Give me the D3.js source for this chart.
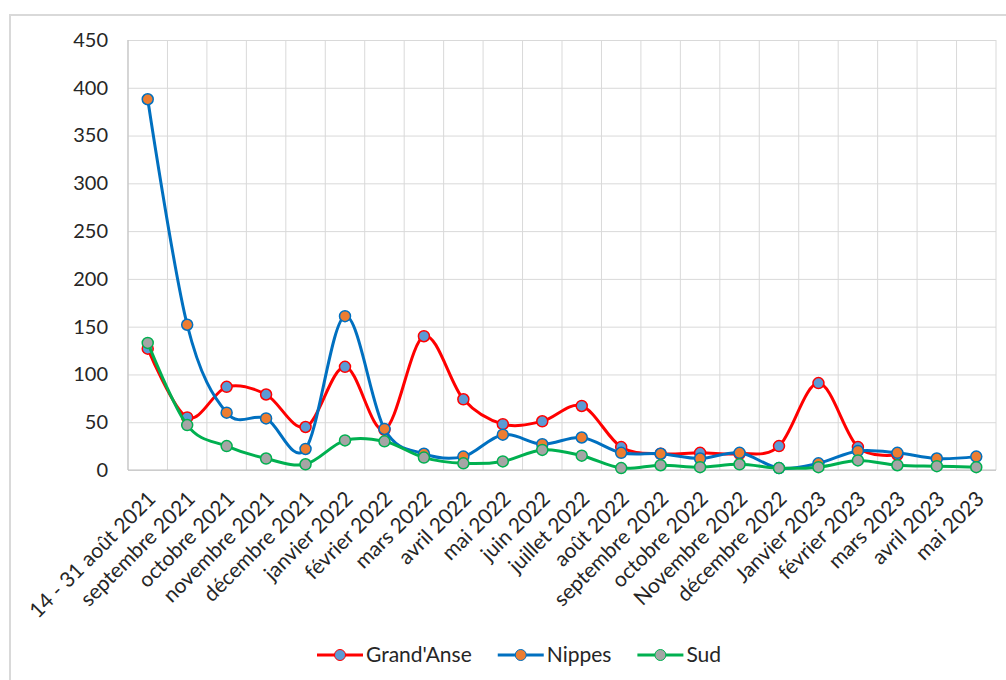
<!DOCTYPE html>
<html>
<head>
<meta charset="utf-8">
<script src="https://cdn.jsdelivr.net/npm/d3@7"></script>
<style>
  body { margin: 0; background: #fff; }
  text { font-family: Lato, "Noto Sans", sans-serif; fill: #262626; }
</style>
</head>
<body>
<div id="chart"></div>
<script>
// data
var categories = ["14 - 31 août 2021", "septembre 2021", "octobre 2021", "novembre 2021",
    "décembre 2021", "janvier 2022", "février 2022", "mars 2022", "avril 2022", "mai 2022",
    "juin 2022", "juillet 2022", "août 2022", "septembre 2022", "octobre 2022",
    "Novembre 2022", "décembre 2022", "Janvier 2023", "février 2023", "mars 2023",
    "avril 2023", "mai 2023"];
var grandAnse = [127, 55, 87, 79, 45, 108, 42, 140, 74, 48, 51, 67, 24, 17, 18, 17, 25, 91, 24, 16, null, null];
var nippes = [388, 152, 60, 54, 22, 161, 43, 17, 14, 37, 27, 34, 18, 17, 12, 18, 2, 7, 20, 18, 12, 14];
var sud = [133, 47, 25, 12, 6, 31, 30, 13, 7, 9, 21, 15, 2, 5, 3, 6, 2, 3, 10, 5, 4, 3];
var yTicks = [0, 50, 100, 150, 200, 250, 300, 350, 400, 450];

var series = [
    { name: "Grand'Anse", values: grandAnse, line: "#ff0000", fill: "#5b9bd5" },
    { name: "Nippes", values: nippes, line: "#0070c0", fill: "#ed7d31" },
    { name: "Sud", values: sud, line: "#00b050", fill: "#a5a5a5" }
];

var W = 1006, H = 680;
var plot = { left: 128, right: 996, top: 40, bottom: 470 };

var svg = d3.select("#chart").append("svg")
    .attr("width", W)
    .attr("height", H);

// chart frame
svg.append("rect")
    .attr("x", 10).attr("y", 15)
    .attr("width", W + 20).attr("height", H + 20)
    .attr("fill", "#fff")
    .attr("stroke", "#d9d9d9")
    .attr("stroke-width", 2);

var x = d3.scaleBand().domain(categories).range([plot.left, plot.right]);
var y = d3.scaleLinear().domain([0, 450]).range([plot.bottom, plot.top]);
var cx = function(c) { return x(c) + x.bandwidth() / 2; };

// horizontal gridlines
svg.append("g")
    .attr("transform", "translate(" + plot.left + ",0)")
    .call(d3.axisLeft(y).tickValues(yTicks).tickSize(-(plot.right - plot.left)).tickFormat(""))
    .call(function(g) { g.select(".domain").remove(); })
    .selectAll("line").attr("stroke", "#d9d9d9");

// vertical gridlines at category borders
var borders = categories.map(function(c) { return x(c); }).concat([plot.right]);
svg.append("g").selectAll("line")
    .data(borders)
    .enter().append("line")
    .attr("x1", function(d) { return d; })
    .attr("x2", function(d) { return d; })
    .attr("y1", plot.top)
    .attr("y2", plot.bottom)
    .attr("stroke", "#d9d9d9");

// axis lines
svg.append("line")
    .attr("x1", plot.left).attr("x2", plot.left)
    .attr("y1", plot.top).attr("y2", plot.bottom)
    .attr("stroke", "#bfbfbf");
svg.append("line")
    .attr("x1", plot.left).attr("x2", plot.right)
    .attr("y1", plot.bottom).attr("y2", plot.bottom)
    .attr("stroke", "#bfbfbf");

// y tick labels
svg.append("g")
    .attr("transform", "translate(" + plot.left + ",0)")
    .call(d3.axisLeft(y).tickValues(yTicks).tickSize(0).tickPadding(20))
    .call(function(g) { g.select(".domain").remove(); })
    .selectAll("text")
    .style("font-family", "Lato, 'Noto Sans', sans-serif")
    .style("font-size", "20px")
    .attr("fill", "#262626");

// x tick labels, rotated
svg.append("g").selectAll("text")
    .data(categories)
    .enter().append("text")
    .attr("transform", function(d) { return "translate(" + (cx(d) + 4) + "," + 495 + ") rotate(-45)"; })
    .attr("text-anchor", "end")
    .attr("dy", "0.35em")
    .style("font-size", "21px")
    .text(function(d) { return d; });

// lines and markers, one series at a time
var line = d3.line()
    .defined(function(d) { return d != null; })
    .x(function(d, i) { return cx(categories[i]); })
    .y(function(d) { return y(d); })
    .curve(d3.curveCardinal.tension(0));

series.forEach(function(s) {
    var g = svg.append("g");
    g.append("path")
        .attr("d", line(s.values))
        .attr("fill", "none")
        .attr("stroke", s.line)
        .attr("stroke-width", 3);
    g.selectAll("circle")
        .data(s.values.map(function(v, i) { return { v: v, c: categories[i] }; })
            .filter(function(d) { return d.v != null; }))
        .enter().append("circle")
        .attr("cx", function(d) { return cx(d.c); })
        .attr("cy", function(d) { return y(d.v); })
        .attr("r", 5.5)
        .attr("fill", s.fill)
        .attr("stroke", s.line)
        .attr("stroke-width", 1.5);
});

// legend
var legendY = 655;
var lx = 317;
series.forEach(function(s) {
    var g = svg.append("g").attr("transform", "translate(" + lx + "," + legendY + ")");
    g.append("line")
        .attr("x1", 0).attr("x2", 46)
        .attr("stroke", s.line)
        .attr("stroke-width", 3);
    g.append("circle")
        .attr("cx", 23).attr("r", 5.5)
        .attr("fill", s.fill)
        .attr("stroke", s.line)
        .attr("stroke-width", 1);
    var t = g.append("text")
        .attr("x", 49)
        .attr("dy", "0.35em")
        .style("font-size", "21px")
        .text(s.name);
    lx += 49 + t.node().getComputedTextLength() + 26;
});
</script>
</body>
</html>
